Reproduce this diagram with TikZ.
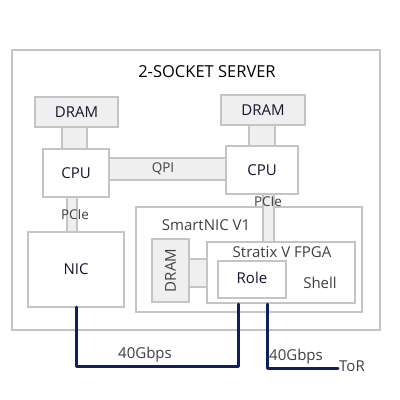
\documentclass[tikz,border=0pt]{standalone}
\usepackage{fontspec}
\setmainfont{Open Sans}
\definecolor{bordergray}{HTML}{C4C4C4}
\definecolor{fillgray}{HTML}{EFEFEF}
\definecolor{darklabel}{HTML}{141430}
\definecolor{lightlabel}{HTML}{404040}
\definecolor{navy}{HTML}{0F2060}
\begin{document}
\begin{tikzpicture}[x=1pt,y=-1pt,
  box/.style={draw=bordergray,line width=1.5pt,fill=white},
  graybox/.style={draw=bordergray,line width=1.5pt,fill=fillgray},
  mainlbl/.style={text=darklabel,font=\fontsize{15}{17}\selectfont,inner sep=0pt},
  sublbl/.style={text=lightlabel,font=\fontsize{15}{17}\selectfont,inner sep=0pt},
  smalllbl/.style={text=lightlabel,font=\fontsize{13.5}{15}\selectfont,inner sep=0pt},
  link/.style={draw=navy,line width=3pt,line join=round,line cap=round}]
\useasboundingbox[fill=white] (0,0) rectangle (400,400);
% server
\draw[box] (12,50) rectangle (380,330);
\node[text=black,font=\fontsize{16.5}{19}\selectfont,inner sep=0pt] (title) at (207,72) {2-SOCKET SERVER};
% connectors (gray bars)
\draw[graybox] (62,126) rectangle (87,149);
\draw[graybox] (249,124) rectangle (275,146);
\draw[graybox] (105,158) rectangle (228,180);
\draw[graybox] (67,196) rectangle (77,233);
% left side
\draw[graybox] (35,97) rectangle (118,127);
\node[mainlbl] (dram1) at (76.5,112) {DRAM};
\draw[box] (43,149) rectangle (109,197);
\node[mainlbl] (cpu1) at (76,173) {CPU};
\node[smalllbl] (qpi) at (163,169) {QPI};
% right side
\draw[graybox] (221,95) rectangle (305,125);
\node[mainlbl] (dram2) at (263,110) {DRAM};
% smartnic
\draw[box] (136,207) rectangle (362,312);
\node[sublbl] (snic) at (206,225) {SmartNIC V1};
\draw[graybox] (263,193) rectangle (274,243);
\draw[box] (226,146) rectangle (298,194);
\node[mainlbl] (cpu2) at (262,170) {CPU};
\node[smalllbl] (pcie2) at (268,202) {PCIe};
% NIC
\draw[box] (28,232) rectangle (124,307);
\node[mainlbl] (nic) at (76,269) {NIC};
\node[smalllbl] (pcie1) at (75,215) {PCIe};
% DRAM vertical + connector
\draw[graybox] (188,259) rectangle (208,287);
\draw[graybox] (152,239) rectangle (189,302);
\node[mainlbl,text=lightlabel,rotate=90] (dram3) at (170.5,270.5) {DRAM};
% FPGA
\draw[box] (207,242) rectangle (355,303);
\node[sublbl] (fpga) at (282,252) {Stratix V FPGA};
\draw[box] (218,261) rectangle (286,298);
\node[mainlbl] (role) at (252,278) {Role};
\node[sublbl] (shell) at (320,283) {Shell};
% links
\coordinate (nicb) at (76,307);
\coordinate (c1) at (76,366);
\coordinate (c2) at (238,366);
\coordinate (fb1) at (238,304);
\coordinate (fb2) at (267,304);
\coordinate (c3) at (267,368);
\coordinate (c4) at (338,368);
\draw[link] (nicb) -- (c1) -- (c2) -- (fb1);
\draw[link] (fb2) -- (c3) -- (c4);
\node[sublbl] (g1) at (145,355) {40Gbps};
\node[sublbl] (g2) at (296,357) {40Gbps};
\node[sublbl,anchor=west] (tor) at (339,366) {ToR};
\end{tikzpicture}
\end{document}
